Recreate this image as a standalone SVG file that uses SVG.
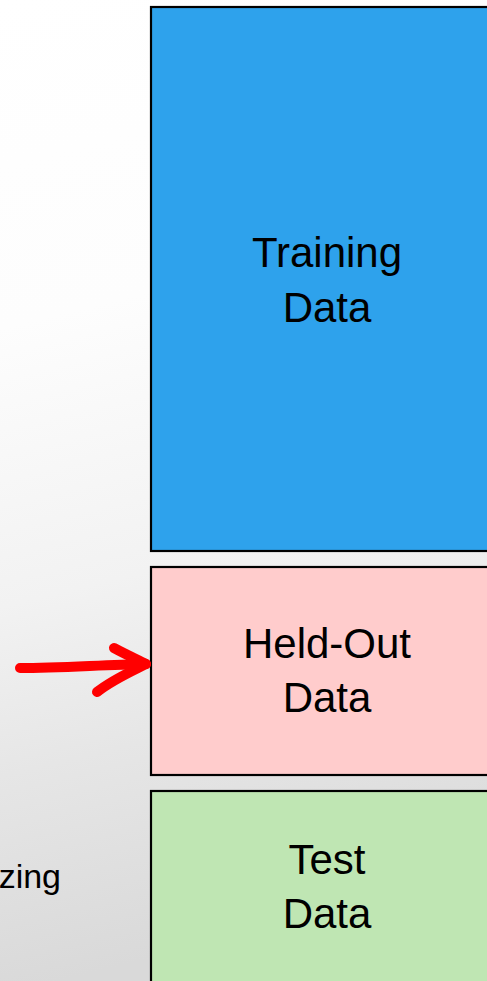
<svg xmlns="http://www.w3.org/2000/svg" width="487" height="981" viewBox="0 0 487 981">
  <defs>
    <linearGradient id="bg" x1="0" y1="0" x2="0.12" y2="1">
      <stop offset="0" stop-color="#ffffff"/>
      <stop offset="0.33" stop-color="#fdfdfd"/>
      <stop offset="0.61" stop-color="#f2f2f2"/>
      <stop offset="0.78" stop-color="#e6e6e6"/>
      <stop offset="1" stop-color="#d9d9d9"/>
    </linearGradient>
    <style>
      .box { stroke: #000000; stroke-width: 2.2; }
      .label { font-family: "Liberation Sans", Arial, sans-serif; font-size: 42px; fill: #000000; text-anchor: middle; }
      .side { font-family: "Liberation Sans", Arial, sans-serif; font-size: 34px; fill: #000000; text-anchor: end; }
      .arrow { fill: none; stroke: #ff0000; stroke-width: 10; stroke-linecap: round; stroke-linejoin: round; }
    </style>
  </defs>
  <rect x="0" y="0" width="487" height="981" fill="url(#bg)"/>

  <g id="training">
    <rect class="box" x="151" y="7" width="360" height="544" fill="#2ea2ec"/>
    <text class="label" x="327" y="267">Training</text>
    <text class="label" x="327" y="322">Data</text>
  </g>

  <g id="heldout">
    <rect class="box" x="151" y="567" width="360" height="208" fill="#ffcccc"/>
    <text class="label" x="327" y="658">Held-Out</text>
    <text class="label" x="327" y="712">Data</text>
  </g>

  <g id="test">
    <rect class="box" x="151" y="791" width="360" height="210" fill="#bfe6b3"/>
    <text class="label" x="327" y="874">Test</text>
    <text class="label" x="327" y="928">Data</text>
  </g>

  <g id="side-text">
    <text class="side" x="61" y="888">zing</text>
  </g>

  <g id="connectors">
    <path class="arrow" d="M20,668 C60,668 100,665 146,664"/>
    <path class="arrow" d="M114,648 C125,654 136,659 146,664 C130,672 112,680 97,692"/>
  </g>
</svg>
